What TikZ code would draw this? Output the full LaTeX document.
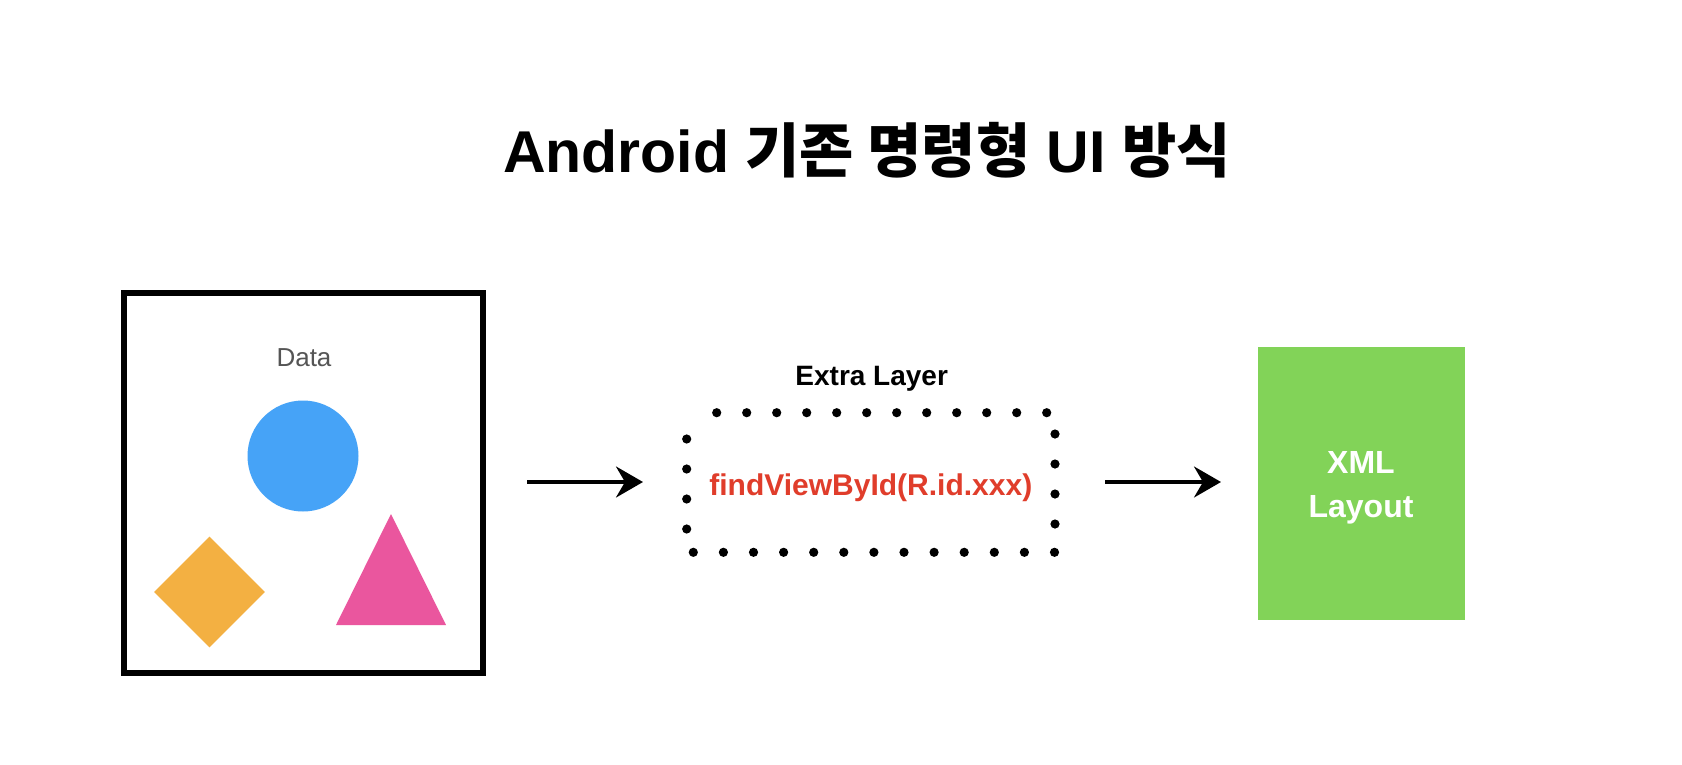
\documentclass[tikz,border=0pt]{standalone}
\usepackage{fontspec}
\setmainfont{Liberation Sans}
\newfontfamily\cjk{Noto Sans CJK KR}
\usetikzlibrary{arrows.meta,shapes.geometric}
\definecolor{circblue}{HTML}{46A3F7}
\definecolor{diaorange}{HTML}{F3B042}
\definecolor{tripink}{HTML}{EA569E}
\definecolor{xmlgreen}{HTML}{82D358}
\definecolor{fvred}{HTML}{E03D2B}
\definecolor{datagray}{HTML}{555555}
\tikzset{
  flow/.style={line width=3.5pt, -{Stealth[length=27pt,width=31pt,inset=9pt]}},
  dotmark/.style={fill=black},
}
\begin{document}
\begin{tikzpicture}[x=1pt,y=-1pt]
\fill[white] (0,0) rectangle (1682,764);
\useasboundingbox (0,0) rectangle (1682,764);

% title
\node[anchor=base, inner sep=0, font=\fontsize{59}{70}\selectfont\bfseries] (title) at (867,172)
  {Android {\cjk 기존 명령형} UI {\cjk 방식}};

% data box
\node[draw=black, line width=6pt, minimum width=359pt, minimum height=380pt, inner sep=0] (data) at (303.5,483) {};
\node[anchor=base, inner sep=0, text=datagray, font=\fontsize{26}{31}\selectfont] (datalbl) at (304,366) {Data};
\node[circle, fill=circblue, minimum size=111pt, inner sep=0] (circ) at (303,456) {};
\node[diamond, fill=diaorange, minimum width=111pt, minimum height=111pt, inner sep=0] (dia) at (209.5,592) {};
\fill[tripink] (391,514) -- (446,625) -- (336,625) -- cycle;

% extra layer
\node[anchor=base, inner sep=0, font=\fontsize{28}{34}\selectfont\bfseries] (extralbl) at (871.7,385.7) {Extra Layer};
\node[minimum width=369pt, minimum height=140pt, inner sep=0] (extra) at (871,482) {};
\node[anchor=base, inner sep=0, text=fvred, font=\fontsize{30}{36}\selectfont\bfseries] (fv) at (870.8,495) {findViewById(R.id.xxx)};
\foreach \k in {0,...,11} \fill[dotmark] (716.7+30*\k,412.7) circle (4.6);
\foreach \k in {0,...,3} \fill[dotmark] (686.7,439+30*\k) circle (4.6);
\foreach \k in {0,...,12} \fill[dotmark] (693.3+30.1*\k,552.3) circle (4.6);
\foreach \k in {0,...,3} \fill[dotmark] (1055,434+30*\k) circle (4.6);

% xml layout
\node[fill=xmlgreen, minimum width=207pt, minimum height=273pt, inner sep=0] (xml) at (1361.4,483) {};
\node[anchor=base, inner sep=0, align=center, text=white, font=\fontsize{32}{44}\selectfont\bfseries] (xmllbl) at (1361,517.7) {XML\\Layout};

% arrows
\coordinate (a1s) at (527,482);
\coordinate (a1e) at (643,482);
\coordinate (a2s) at (1105,482);
\coordinate (a2e) at (1221,482);
\draw[flow] (a1s) -- (a1e);
\draw[flow] (a2s) -- (a2e);
\end{tikzpicture}
\end{document}
